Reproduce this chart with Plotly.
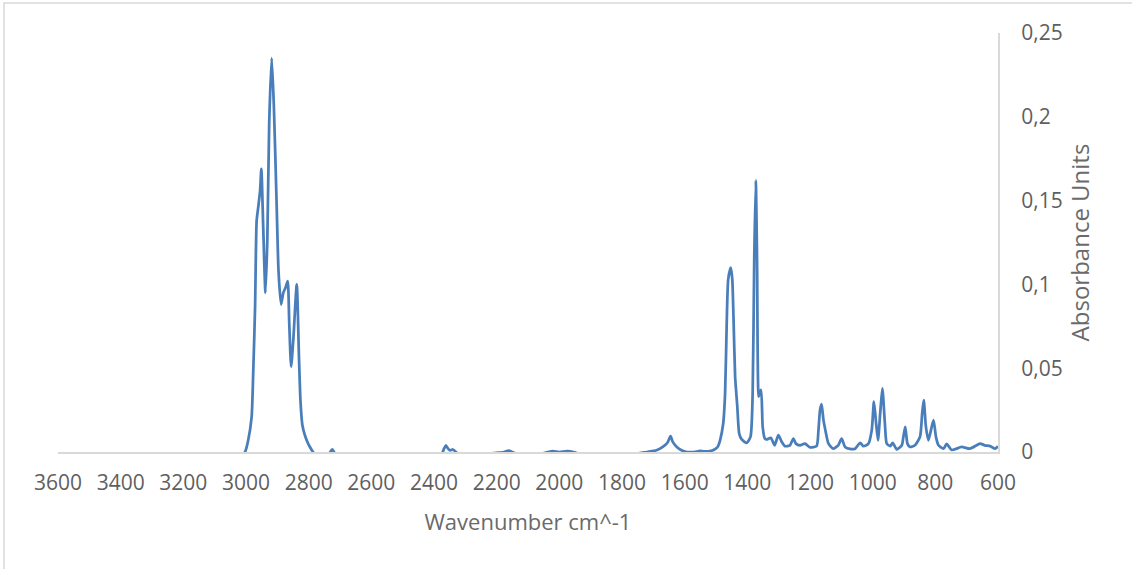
import plotly.graph_objects as go

# FTIR absorbance spectrum (wavenumber in cm^-1, absorbance units)
wavenumber = [
    3600, 3400, 3200, 3050, 3012, 3003, 2993, 2982, 2977, 2971, 2966, 2961,
    2955, 2951, 2945, 2938, 2932, 2926, 2918, 2911, 2902, 2896, 2888, 2881,
    2874, 2867, 2862, 2856, 2849, 2838, 2831, 2826, 2820, 2812, 2804, 2796,
    2786, 2772, 2740, 2731, 2725, 2719, 2708,
    2400, 2375, 2368, 2362, 2355, 2349, 2340, 2330, 2316,
    2250, 2231, 2200, 2175, 2162, 2150, 2138, 2120,
    2070, 2055, 2035, 2022, 2000, 1975, 1955, 1940, 1920,
    1780, 1752, 1720, 1690, 1670, 1655, 1645, 1638, 1625, 1610, 1593, 1570,
    1551, 1540, 1520, 1505, 1495, 1487, 1477, 1471, 1466, 1461, 1453, 1448,
    1444, 1439, 1436, 1432, 1426, 1418, 1402, 1390, 1383, 1378, 1373, 1369,
    1364, 1361, 1356, 1351, 1344, 1338, 1325, 1313, 1301, 1290, 1280, 1264,
    1253, 1245, 1232, 1216, 1200, 1179, 1173, 1168, 1163, 1157, 1152, 1141,
    1126, 1110, 1099, 1088, 1072, 1056, 1040, 1030, 1014, 1003, 996, 989,
    983, 976, 969, 961, 955, 944, 936, 923, 907, 902, 896, 889, 881, 865,
    849, 842, 837, 830, 822, 806, 798, 790, 774, 764, 748, 716, 690, 668,
    657, 642, 625, 609, 600,
]

absorbance = [
    -0.004, -0.004, -0.004, -0.004, -0.002, 0.000, 0.007, 0.021, 0.047, 0.087, 0.138, 0.146,
    0.156, 0.169, 0.134, 0.095, 0.126, 0.196, 0.235, 0.206, 0.146, 0.107, 0.088, 0.095,
    0.098, 0.102, 0.077, 0.051, 0.067, 0.100, 0.057, 0.030, 0.016, 0.010, 0.006, 0.003,
    0.000, -0.003, -0.003, 0.000, 0.0015, 0.000, -0.003,
    -0.003, -0.001, 0.002, 0.004, 0.002, 0.001, 0.0015, 0.000, -0.003,
    -0.003, -0.001, -0.0005, 0.000, 0.0008, 0.000, -0.001, -0.003,
    -0.003, -0.001, 0.000, 0.0005, 0.000, 0.0005, 0.000, -0.001, -0.003,
    -0.003, -0.001, 0.000, 0.001, 0.003, 0.0055, 0.0095, 0.006, 0.003, 0.001, 0.000, 0.000,
    0.0006, 0.0004, 0.0005, 0.0015, 0.003, 0.007, 0.017, 0.035, 0.075, 0.103, 0.110, 0.103,
    0.079, 0.045, 0.037, 0.027, 0.011, 0.0075, 0.0055, 0.009, 0.035, 0.115, 0.162, 0.115,
    0.033, 0.035, 0.037, 0.015, 0.008, 0.0075, 0.0085, 0.004, 0.010, 0.006, 0.0035, 0.004,
    0.008, 0.005, 0.004, 0.005, 0.0028, 0.0035, 0.013, 0.025, 0.0286, 0.019, 0.014, 0.005,
    0.002, 0.004, 0.008, 0.003, 0.0018, 0.002, 0.0055, 0.0035, 0.0048, 0.013, 0.030, 0.017,
    0.007, 0.023, 0.038, 0.017, 0.005, 0.0035, 0.0055, 0.0016, 0.004, 0.009, 0.015, 0.005, 0.003, 0.004,
    0.009, 0.023, 0.031, 0.015, 0.007, 0.019, 0.009, 0.004, 0.002, 0.0048, 0.0012, 0.003, 0.002, 0.004,
    0.005, 0.004, 0.0035, 0.002, 0.0035,
]

x_ticks = [3600, 3400, 3200, 3000, 2800, 2600, 2400, 2200, 2000, 1800, 1600, 1400, 1200, 1000, 800, 600]
y_ticks = [0, 0.05, 0.1, 0.15, 0.2, 0.25]
y_tick_labels = ["0", "0,05", "0,1", "0,15", "0,2", "0,25"]

W, H = 1132, 569
L, R, T, B = 58, 134, 33, 117
pw, ph = W - L - R, H - T - B

text_color = "#5f5f5f"
title_color = "#6a6a6a"
axis_color = "#d9d9d9"
font_family = "Open Sans"

fig = go.Figure()
fig.add_trace(go.Scatter(
    x=wavenumber,
    y=absorbance,
    mode="lines",
    line=dict(color="#4A7EBB", width=2.75, shape="spline", smoothing=0.6),
    showlegend=False,
    hoverinfo="skip",
))

fig.update_layout(
    width=W,
    height=H,
    margin=dict(l=L, r=R, t=T, b=B),
    paper_bgcolor="white",
    plot_bgcolor="white",
    font=dict(family=font_family, size=21, color=text_color),
    xaxis=dict(
        range=[3600, 600],
        tickvals=x_ticks,
        ticktext=[str(v) for v in x_ticks],
        showgrid=False,
        zeroline=False,
        showline=True,
        linecolor=axis_color,
        linewidth=2,
        ticks="",
        ticklabelstandoff=11,
        tickfont=dict(size=21, color=text_color),
        title=dict(text="Wavenumber cm^-1", font=dict(size=22, color=title_color), standoff=19),
    ),
    yaxis=dict(
        range=[0, 0.25],
        side="right",
        tickvals=y_ticks,
        ticktext=y_tick_labels,
        showgrid=False,
        zeroline=False,
        showline=True,
        linecolor=axis_color,
        linewidth=2,
        ticks="",
        ticklabelstandoff=17,
        tickfont=dict(size=21, color=text_color),
        title=dict(text="Absorbance Units", font=dict(size=24, color=title_color), standoff=11),
    ),
    shapes=[
        dict(
            type="rect", xref="paper", yref="paper", layer="below",
            x0=(4 - L) / pw, x1=(W + 10 - L) / pw,
            y0=(H - B - (H + 10)) / ph, y1=(H - B - 3) / ph,
            line=dict(color=axis_color, width=1.5),
            fillcolor="rgba(0,0,0,0)",
        )
    ],
)

fig.write_html("out.html")
